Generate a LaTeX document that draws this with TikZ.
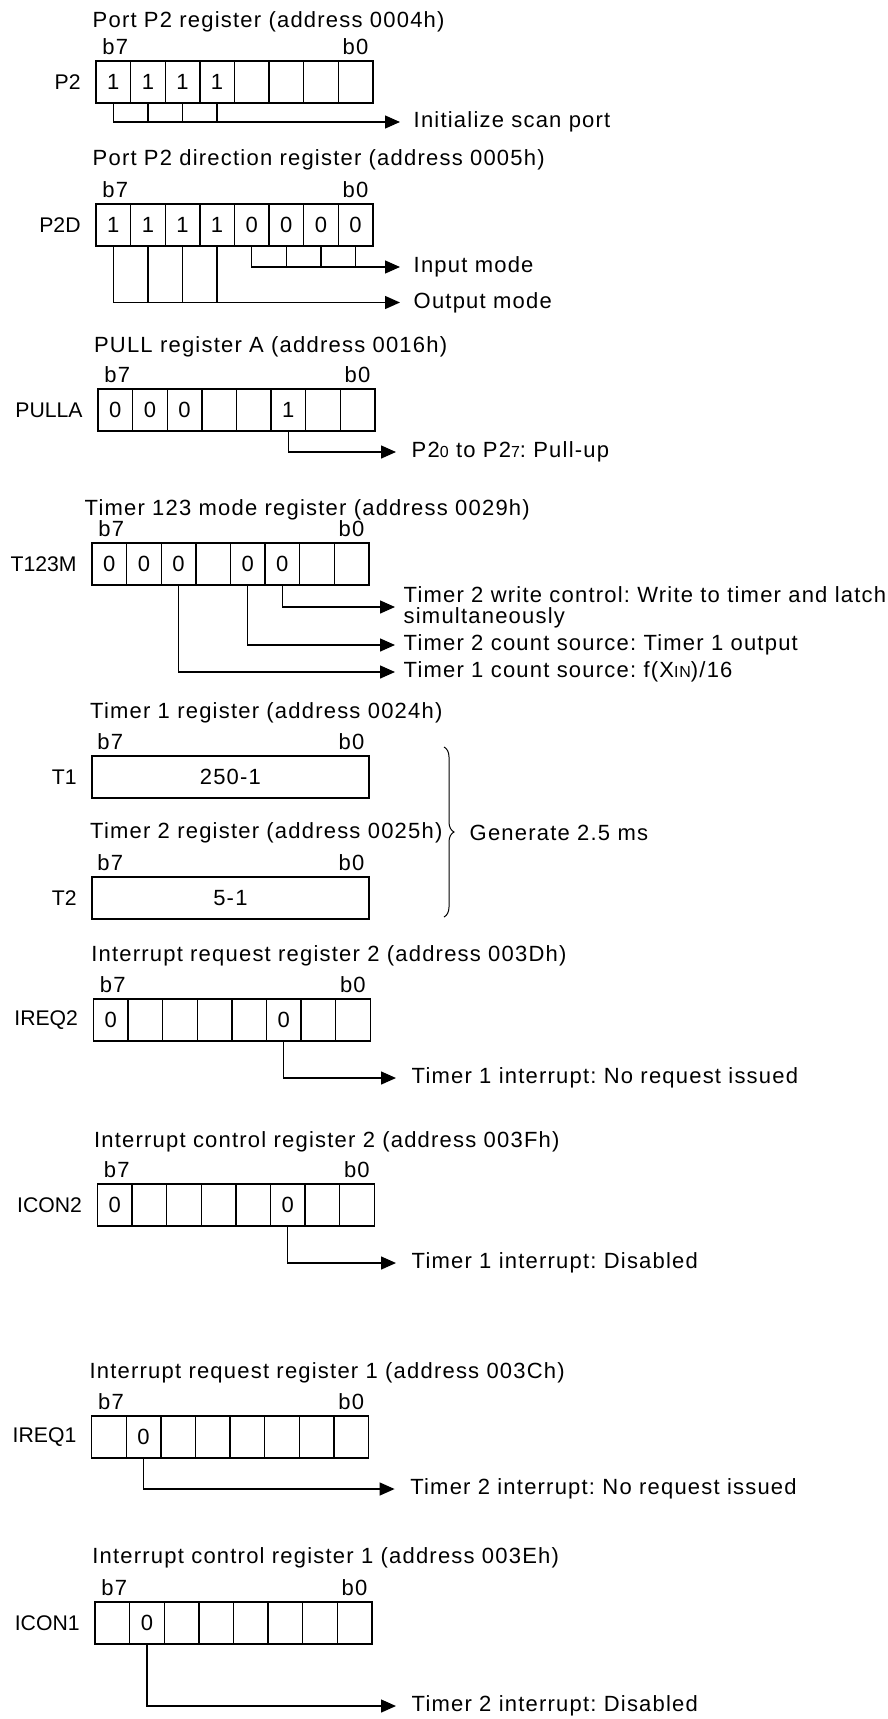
\documentclass[tikz,border=0pt]{standalone}
\usepackage{fontspec}
\setmainfont{Liberation Sans}[LetterSpace=5.5]
\newfontfamily\namefont{Liberation Sans}
\usepackage{tikz}
\usetikzlibrary{%
  arrows.meta,
  positioning,
  decorations.pathreplacing
}
\newcommand{\regfont}{\fontsize{11pt}{12.7pt}\selectfont}
\newcommand{\smallsub}[1]{{\fontsize{8pt}{8pt}\selectfont #1}}

\begin{document}
\frenchspacing
\begin{tikzpicture}[x=0.5pt, y=-0.5pt, line width=0.7pt,
    every node/.style={font=\regfont},
    cell/.style={draw, minimum width=17.3pt, minimum height=21pt, inner sep=0pt},
    bitno/.style={inner sep=0pt},
    regname/.style={inner sep=0pt, font=\namefont\fontsize{10.6pt}{12pt}\selectfont},
    regtitle/.style={anchor=west, inner sep=0pt},
    notetext/.style={anchor=west, inner xsep=7.5pt, inner ysep=0pt, align=left},
    arrowto/.style={-{Triangle[length=7.5pt, width=6.5pt]}}]
    \useasboundingbox (0,0) rectangle (888,1719);

    % port P2
    \node[regtitle] (p2t) at (92,22) {Port P2 register (address 0004h)};
    \foreach \v [count=\i from 0] in {1,1,1,1,{},{},{},{}}
      \node[cell] (p2-\i) at (96+17.3+\i*34.6, 82) {\v};
    \node[bitno, above=2.5pt of p2-0, xshift=1pt] (p2b7) {b7};
    \node[bitno, above=2.5pt of p2-7] (p2b0) {b0};
    \node[regname, left=7pt of p2-0] (p2n) {P2};
    \node[notetext, inner xsep=6.5pt] (scan) at (400,122) {Initialize scan port};
    \draw[arrowto] (p2-0.south) |- (scan.west);
    \foreach \i in {1,2,3} \draw (p2-\i.south) -- (p2-\i.south |- scan.west);

    % port P2 direction
    \node[regtitle] (p2dt) at (92,160) {Port P2 direction register (address 0005h)};
    \foreach \v [count=\i from 0] in {1,1,1,1,0,0,0,0}
      \node[cell] (p2d-\i) at (96+17.3+\i*34.6, 225) {\v};
    \node[bitno, above=2.5pt of p2d-0, xshift=1pt] (p2db7) {b7};
    \node[bitno, above=2.5pt of p2d-7] (p2db0) {b0};
    \node[regname, left=7pt of p2d-0] (p2dn) {P2D};
    \node[notetext, inner xsep=6.5pt] (inmode) at (400,267) {Input mode};
    \node[notetext, inner xsep=6.5pt] (outmode) at (400,302.5) {Output mode};
    \draw[arrowto] (p2d-4.south) |- (inmode.west);
    \foreach \i in {5,6,7} \draw (p2d-\i.south) -- (p2d-\i.south |- inmode.west);
    \draw[arrowto] (p2d-0.south) |- (outmode.west);
    \foreach \i in {1,2,3} \draw (p2d-\i.south) -- (p2d-\i.south |- outmode.west);

    % pull register A
    \node[regtitle] (pullat) at (93.4,347) {PULL register A (address 0016h)};
    \foreach \v [count=\i from 0] in {0,0,0,{},{},1,{},{}}
      \node[cell] (pulla-\i) at (98+17.3+\i*34.6, 410) {\v};
    \node[bitno, above=2.5pt of pulla-0, xshift=1pt] (pullab7) {b7};
    \node[bitno, above=2.5pt of pulla-7] (pullab0) {b0};
    \node[regname, left=7pt of pulla-0] (pullan) {PULLA};
    \node[notetext] (pullup) at (396,452) {P2\smallsub{0} to P2\smallsub{7}: Pull-up};
    \draw[arrowto] (pulla-5.south) |- (pullup.west);

    % timer 123 mode
    \node[regtitle] (t123mt) at (84,510) {Timer 123 mode register (address 0029h)};
    \foreach \v [count=\i from 0] in {0,0,0,{},0,0,{},{}}
      \node[cell] (t123m-\i) at (92+17.3+\i*34.6, 564) {\v};
    \node[bitno, above=2.5pt of t123m-0, xshift=1pt] (t123mb7) {b7};
    \node[bitno, above=2.5pt of t123m-7] (t123mb0) {b0};
    \node[regname, left=7pt of t123m-0] (t123mn) {T123M};
    \node[notetext, inner xsep=4pt, font=\fontsize{11pt}{10.5pt}\selectfont] (wctl) at (395,607)
      {Timer 2 write control: Write to timer and latch\\simultaneously};
    \node[notetext, inner xsep=4pt] (t2src) at (395,645) {Timer 2 count source: Timer 1 output};
    \node[notetext, inner xsep=4pt] (t1src) at (395,672) {Timer 1 count source: f(X\smallsub{IN})/16};
    \draw[arrowto] (t123m-5.south) |- (wctl.west);
    \draw[arrowto] (t123m-4.south) |- (t2src.west);
    \draw[arrowto] (t123m-2.south) |- (t1src.west);

    % timers 1 and 2
    \node[regtitle] (t1t) at (89.5,713) {Timer 1 register (address 0024h)};
    \node[cell, minimum width=138.4pt] (t1) at (92+138.4, 777) {250-1};
    \node[bitno, above=2.5pt of t1.north west, xshift=9.5pt] (t1b7) {b7};
    \node[bitno, above=2.5pt of t1.north east, xshift=-9pt] (t1b0) {b0};
    \node[regname, left=7pt of t1] (t1n) {T1};
    \node[regtitle] (t2t) at (89.5,833) {Timer 2 register (address 0025h)};
    \node[cell, minimum width=138.4pt] (t2) at (92+138.4, 898) {5-1};
    \node[bitno, above=2.5pt of t2.north west, xshift=9.5pt] (t2b7) {b7};
    \node[bitno, above=2.5pt of t2.north east, xshift=-9pt] (t2b0) {b0};
    \node[regname, left=7pt of t2] (t2n) {T2};
    \coordinate (bracetop) at (444,747);
    \coordinate (bracebot) at (444,917);
    \draw[line width=0.5pt, decorate, decoration={brace, amplitude=5pt}] (bracetop) -- (bracebot);
    \node[regtitle] (gen) at (469,833) {Generate 2.5 ms};

    % interrupt request 2
    \node[regtitle] (ireqbt) at (90.6,956) {Interrupt request register 2 (address 003Dh)};
    \foreach \v [count=\i from 0] in {0,{},{},{},{},0,{},{}}
      \node[cell] (ireqb-\i) at (93.4+17.3+\i*34.6, 1020) {\v};
    \node[bitno, above=2.5pt of ireqb-0, xshift=1pt] (ireqbb7) {b7};
    \node[bitno, above=2.5pt of ireqb-7] (ireqbb0) {b0};
    \node[regname, left=7pt of ireqb-0] (ireqbn) {IREQ2};
    \node[notetext] (t1noreq) at (396,1078) {Timer 1 interrupt: No request issued};
    \draw[arrowto] (ireqb-5.south) |- (t1noreq.west);

    % interrupt control 2
    \node[regtitle] (iconbt) at (93.4,1142) {Interrupt control register 2 (address 003Fh)};
    \foreach \v [count=\i from 0] in {0,{},{},{},{},0,{},{}}
      \node[cell] (iconb-\i) at (97.4+17.3+\i*34.6, 1205) {\v};
    \node[bitno, above=2.5pt of iconb-0, xshift=1pt] (iconbb7) {b7};
    \node[bitno, above=2.5pt of iconb-7] (iconbb0) {b0};
    \node[regname, left=7pt of iconb-0] (iconbn) {ICON2};
    \node[notetext] (t1dis) at (396,1263) {Timer 1 interrupt: Disabled};
    \draw[arrowto] (iconb-5.south) |- (t1dis.west);

    % interrupt request 1
    \node[regtitle] (ireqat) at (88.9,1373) {Interrupt request register 1 (address 003Ch)};
    \foreach \v [count=\i from 0] in {{},0,{},{},{},{},{},{}}
      \node[cell] (ireqa-\i) at (91.7+17.3+\i*34.6, 1437) {\v};
    \node[bitno, above=2.5pt of ireqa-0, xshift=1pt] (ireqab7) {b7};
    \node[bitno, above=2.5pt of ireqa-7] (ireqab0) {b0};
    \node[regname, left=7pt of ireqa-0] (ireqan) {IREQ1};
    \node[notetext] (t2noreq) at (394.6,1489) {Timer 2 interrupt: No request issued};
    \draw[arrowto] (ireqa-1.south) |- (t2noreq.west);

    % interrupt control 1
    \node[regtitle] (iconat) at (91.7,1558) {Interrupt control register 1 (address 003Eh)};
    \foreach \v [count=\i from 0] in {{},0,{},{},{},{},{},{}}
      \node[cell] (icona-\i) at (95+17.3+\i*34.6, 1623) {\v};
    \node[bitno, above=2.5pt of icona-0, xshift=1pt] (iconab7) {b7};
    \node[bitno, above=2.5pt of icona-7] (iconab0) {b0};
    \node[regname, left=7pt of icona-0] (iconan) {ICON1};
    \node[notetext] (t2dis) at (396,1706) {Timer 2 interrupt: Disabled};
    \draw[arrowto] (icona-1.south) |- (t2dis.west);
\end{tikzpicture}
\end{document}
